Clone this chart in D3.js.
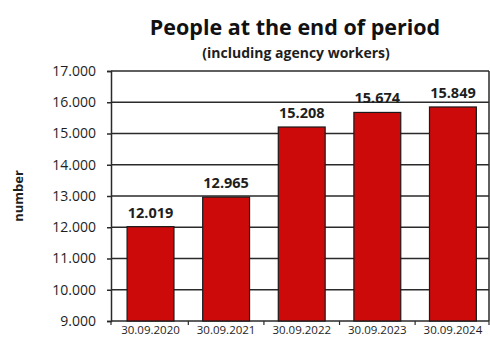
<!DOCTYPE html>
<html>
<head>
<meta charset="utf-8">
<script src="https://cdn.jsdelivr.net/npm/d3@7/dist/d3.min.js"></script>
<style>
  html, body { margin: 0; padding: 0; background: #fff; }
  svg { display: block; font-family: "Open Sans", "Noto Sans", sans-serif; }
</style>
</head>
<body>
<svg id="chart" width="490" height="342"></svg>
<script>
// Headcount at period end, including agency workers
const categories = ["30.09.2020", "30.09.2021", "30.09.2022", "30.09.2023", "30.09.2024"];
const values = [12019, 12965, 15208, 15674, 15849];
const yTicks = [9000, 10000, 11000, 12000, 13000, 14000, 15000, 16000, 17000];
const titleText = "People at the end of period";
const subtitleText = "(including agency workers)";
const yAxisTitle = "number";

const de = d3.formatLocale({ decimal: ",", thousands: ".", grouping: [3], currency: ["", "€"] });
const fmt = de.format(",.0f");

const svg = d3.select("#chart");
const margin = { left: 111, right: 1, top: 71, bottom: 21 };
const W = 490, H = 342;
const x0 = margin.left, x1 = W - margin.right;
const y0 = H - margin.bottom, y1 = margin.top;

const x = d3.scaleBand().domain(categories).range([x0, x1])
  .paddingInner(0.38).paddingOuter(0.19).align(0.56);
const y = d3.scaleLinear().domain([9000, 17000]).range([y0, y1]);

const ink = "#1e1e1e";

// horizontal gridlines
svg.append("g").selectAll("line").data(yTicks).join("line")
  .attr("x1", x0).attr("x2", x1)
  .attr("y1", d => y(d)).attr("y2", d => y(d))
  .attr("stroke", "#2a2a2a").attr("stroke-width", 1.5);

// right border of plot area
svg.append("line").attr("x1", x1).attr("x2", x1).attr("y1", y1).attr("y2", y0)
  .attr("stroke", "#2a2a2a").attr("stroke-width", 1.5);

// bars
svg.append("g").selectAll("rect").data(values).join("rect")
  .attr("x", (d, i) => x(categories[i]))
  .attr("width", x.bandwidth())
  .attr("y", d => y(d))
  .attr("height", d => y0 - y(d))
  .attr("fill", "#cc0a0a")
  .attr("stroke", "#1a1a1a").attr("stroke-width", 1.2);

// value labels
svg.append("g").selectAll("text").data(values).join("text")
  .attr("x", (d, i) => x(categories[i]) + x.bandwidth() / 2)
  .attr("y", d => y(d) - 9)
  .attr("text-anchor", "middle")
  .attr("font-size", 14.5).attr("font-weight", 700).attr("fill", ink)
  .text(d => fmt(d));

// y axis
const yAxis = svg.append("g").attr("transform", `translate(${x0},0)`)
  .call(d3.axisLeft(y).tickValues(yTicks).tickFormat(fmt).tickSize(4).tickPadding(11));
yAxis.select(".domain").attr("stroke", "#2a2a2a").attr("stroke-width", 1.5);
yAxis.selectAll(".tick line").attr("stroke", "#2a2a2a").attr("stroke-width", 1.5);
yAxis.selectAll(".tick text").attr("font-size", 14).attr("fill", ink)
  .attr("font-family", "'Open Sans', sans-serif");

// x axis: tick marks at band boundaries
const bounds = categories.map(c => x(c) - x.step() * x.paddingInner() / 2);
bounds[0] = x0;
bounds.push(x1);
svg.append("g").selectAll("line").data(bounds).join("line")
  .attr("x1", d => d).attr("x2", d => d)
  .attr("y1", y0).attr("y2", y0 + 4)
  .attr("stroke", "#2a2a2a").attr("stroke-width", 1.2);
svg.append("g").selectAll("text").data(categories).join("text")
  .attr("x", d => x(d) + x.bandwidth() / 2)
  .attr("y", y0 + 13)
  .attr("text-anchor", "middle")
  .attr("font-size", 11.5).attr("fill", ink)
  .text(d => d);

// titles
svg.append("text").attr("x", 295).attr("y", 35).attr("text-anchor", "middle")
  .attr("font-size", 21.5).attr("font-weight", 700).attr("fill", "#111")
  .text(titleText);
svg.append("text").attr("x", 296).attr("y", 58).attr("text-anchor", "middle")
  .attr("font-size", 14).attr("font-weight", 700).attr("fill", ink)
  .text(subtitleText);

// y axis title
svg.append("text")
  .attr("transform", `translate(23,${(y0 + y1) / 2}) rotate(-90)`)
  .attr("text-anchor", "middle")
  .attr("font-size", 13).attr("font-weight", 700).attr("fill", ink)
  .text(yAxisTitle);
</script>
</body>
</html>
